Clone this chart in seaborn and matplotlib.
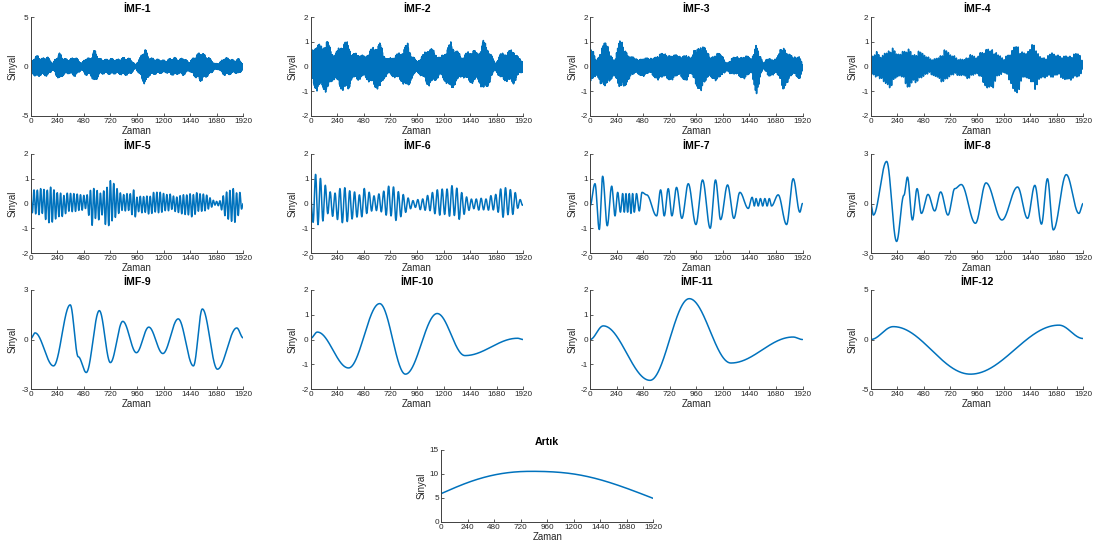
import numpy as np
import matplotlib
matplotlib.use("Agg")
import matplotlib.pyplot as plt
import seaborn as sns

# ---------------------------------------------------------------------------
# Data: time axis and the decomposition components
# ---------------------------------------------------------------------------
t = np.arange(0, 1921)
x_ticks = [0, 240, 480, 720, 960, 1200, 1440, 1680, 1920]

titles = ["İMF-1", "İMF-2", "İMF-3", "İMF-4", "İMF-5", "İMF-6",
          "İMF-7", "İMF-8", "İMF-9", "İMF-10", "İMF-11", "İMF-12"]

# High-frequency components: envelope (time, amplitude) and mean period
imf1_env_t = [0, 30, 60, 100, 150, 200, 230, 260, 300, 350, 400, 460, 500, 540, 577,
              620, 680, 720, 780, 840, 900, 946, 990, 1031, 1070, 1110, 1160, 1220,
              1260, 1300, 1340, 1380, 1430, 1480, 1536, 1580, 1620, 1660, 1700, 1750,
              1800, 1840, 1880, 1920]
imf1_env_a = [0.3, 0.9, 1.1, 0.8, 1.0, 0.3, 0.9, 1.35, 0.8, 0.7, 1.0, 0.3, 0.9, 0.8, 1.7,
              0.8, 0.7, 0.8, 0.7, 0.9, 0.8, 0.15, 0.9, 1.85, 0.9, 0.8, 0.7, 0.6,
              0.8, 0.9, 0.7, 0.9, 0.4, 1.0, 1.5, 1.1, 0.8, 0.3, 0.3, 0.9,
              0.8, 0.6, 0.8, 0.2]
imf1_period = 4

imf2_env_t = [0, 54, 100, 145, 190, 220, 280, 340, 370, 430, 490, 520, 600, 627, 660,
              700, 760, 820, 875, 910, 960, 1020, 1065, 1110, 1170, 1230, 1265, 1300,
              1365, 1425, 1470, 1510, 1560, 1606, 1667, 1712, 1773, 1833, 1878, 1920]
imf2_env_a = [0.5, 1.0, 0.8, 1.1, 0.6, 0.5, 0.95, 1.0, 0.5, 0.55, 0.4, 0.6, 0.9, 0.95, 0.5,
              0.3, 0.45, 0.6, 0.95, 0.5, 0.2, 0.5, 0.8, 0.65, 0.35, 0.7, 1.0, 0.75,
              0.4, 0.6, 0.7, 0.5, 1.05, 0.75, 0.1, 0.5, 0.6, 0.7, 0.35, 0.2]
imf2_period = 6

imf3_env_t = [0, 30, 60, 105, 141, 180, 220, 271, 316, 361, 421, 482, 542, 617, 677,
              737, 813, 867, 912, 949, 1000, 1039, 1084, 1144, 1190, 1235, 1280, 1340,
              1400, 1460, 1505, 1535, 1565, 1610, 1685, 1745, 1790, 1836, 1896, 1920]
imf3_env_a = [0.75, 0.6, 0.3, 0.8, 1.0, 0.6, 0.3, 1.1, 0.8, 0.45, 0.3, 0.4, 0.3, 0.55, 0.5,
              0.55, 0.4, 0.6, 0.3, 0.75, 1.0, 0.75, 0.4, 0.6, 0.45, 0.15, 0.35, 0.4,
              0.5, 0.3, 1.15, 0.5, 0.1, 0.4, 0.3, 0.95, 0.6, 0.35, 0.5, 0.1]
imf3_period = 10

imf4_env_t = [0, 54, 99, 150, 189, 234, 279, 338, 383, 428, 473, 533, 593, 668, 713,
              773, 833, 893, 953, 998, 1042, 1102, 1147, 1207, 1267, 1321, 1357, 1402,
              1432, 1483, 1522, 1582, 1641, 1686, 1731, 1791, 1851, 1896, 1920]
imf4_env_a = [0.35, 0.6, 0.5, 0.8, 0.9, 0.5, 0.55, 0.9, 0.6, 0.7, 0.5, 0.35, 0.4, 0.75, 0.5,
              0.4, 0.35, 0.55, 0.35, 0.6, 0.85, 0.9, 0.5, 0.3, 0.7, 1.2, 0.7, 0.5,
              0.7, 1.05, 0.5, 0.45, 0.55, 0.45, 0.5, 0.55, 0.55, 0.45, 0.1]
imf4_period = 18

imf5_env_t = [0, 33, 100, 160, 175, 205, 250, 296, 342, 387, 447, 493, 523, 553, 584,
              614, 644, 689, 705, 735, 765, 795, 825, 871, 916, 931, 961, 1007, 1052,
              1113, 1173, 1234, 1294, 1355, 1415, 1470, 1536, 1597, 1657, 1703, 1748,
              1808, 1839, 1869, 1899, 1920]
imf5_env_a = [0.35, 0.6, 0.6, 0.8, 0.85, 0.7, 0.6, 0.5, 0.45, 0.4, 0.4, 0.3, 0.5, 0.95, 0.6,
              0.7, 0.5, 1.0, 1.05, 1.0, 0.7, 0.5, 0.4, 0.4, 0.5, 0.8, 0.3, 0.4, 0.4,
              0.5, 0.45, 0.4, 0.35, 0.4, 0.5, 0.55, 0.4, 0.35, 0.1, 0.1, 0.45,
              0.8, 0.8, 0.6, 0.45, 0.0]
imf5_period = 30

imf6_env_t = [0, 18, 45, 79, 109, 136, 175, 220, 260, 311, 372, 432, 478, 523, 568,
              614, 674, 735, 780, 825, 871, 931, 992, 1052, 1113, 1173, 1234, 1294,
              1355, 1400, 1461, 1521, 1566, 1627, 1688, 1733, 1778, 1824, 1869, 1920]
imf6_env_a = [0.2, 0.9, 1.25, 1.2, 0.95, 0.7, 0.55, 0.6, 0.75, 0.8, 0.7, 0.5, 0.7, 0.5, 0.3,
              0.4, 0.6, 0.8, 0.75, 0.5, 0.3, 0.15, 0.25, 0.35, 0.5, 0.6, 0.65, 0.75,
              0.7, 0.35, 0.2, 0.3, 0.25, 0.35, 0.4, 0.7, 0.65, 0.6, 0.3, 0.05]
imf6_period = 44

# Relative height of successive half-cycles of the fast components
cycle_scale = [1.0, 0.8, 0.95, 0.7, 0.9, 0.75, 1.0, 0.65, 0.85, 0.9, 0.7, 0.95, 0.8]

# Slower components: turning points (time, value)
imf7_t = [0, 45, 84, 114, 156, 196, 226, 250, 275, 295, 310, 325, 340, 355, 370, 385,
          400, 420, 445, 470, 512, 602, 638, 671, 707, 740, 782, 830, 888, 957, 1017,
          1086, 1134, 1180, 1243, 1300, 1354, 1430, 1465, 1485, 1500, 1520, 1540, 1560,
          1580, 1600, 1620, 1640, 1700, 1776, 1836, 1896, 1920]
imf7_v = [-0.1, 0.8, -1.05, 1.1, -0.9, 0.7, -0.5, 0.45, -0.35, 0.4, -0.35, 0.4, -0.35, 0.4,
          -0.4, 0.4, -0.35, 0.4, -0.3, 0.45, 0.35, -0.5, 0.55, -0.5, 0.6, -0.5, 0.65, -0.6,
          0.8, -0.85, 0.95, -1.0, 0.95, -0.65, 0.75, -0.6, 0.45, -0.2, 0.25, -0.1, 0.2,
          -0.1, 0.2, -0.1, 0.2, -0.1, 0.2, -0.1, 0.35, -0.85, 1.0, -0.35, 0.0]

imf8_t = [0, 24, 144, 234, 300, 332, 377, 419, 458, 518, 578, 632, 698, 760, 818, 946,
          1042, 1186, 1327, 1417, 1483, 1543, 1597, 1650, 1767, 1881, 1920]
imf8_v = [0.0, -0.7, 2.55, -2.3, 0.5, 1.6, -1.0, 0.9, -0.6, 0.55, -0.45, 0.7, -0.7, 0.9,
          1.15, -1.2, 1.25, -1.0, 1.0, -0.9, 1.1, -1.25, 1.5, -1.6, 1.75, -0.6, 0.0]

imf9_t = [0, 39, 206, 357, 430, 502, 620, 720, 832, 955, 1067, 1194, 1333, 1470, 1551,
          1687, 1862, 1920]
imf9_v = [0.05, 0.4, -1.6, 2.1, -1.05, -2.0, 1.75, -1.4, 1.1, -0.8, 0.75, -0.85, 1.25,
          -1.6, 1.85, -1.8, 0.7, 0.1]

imf10_t = [0, 60, 342, 623, 856, 1143, 1394, 1869, 1920]
imf10_v = [0.05, 0.3, -1.15, 1.45, -1.4, 1.05, -0.65, 0.05, 0.0]

imf11_t = [0, 120, 542, 897, 1273, 1835, 1920]
imf11_v = [0.0, 0.55, -1.65, 1.65, -0.95, 0.1, 0.0]

imf12_t = [0, 204, 901, 1701, 1920]
imf12_v = [0.0, 1.3, -3.5, 1.45, 0.1]

res_t = [0, 240, 480, 720, 860, 1200, 1440, 1680, 1920]
res_v = [5.9, 8.2, 9.8, 10.5, 10.55, 10.0, 8.8, 7.0, 4.9]

y_limits = [(-5, 5), (-2, 2), (-2, 2), (-2, 2), (-2, 2), (-2, 2),
            (-2, 2), (-3, 3), (-3, 3), (-2, 2), (-2, 2), (-5, 5)]
y_ticks = [[-5, 0, 5], [-2, -1, 0, 1, 2], [-2, -1, 0, 1, 2], [-2, -1, 0, 1, 2],
           [-2, -1, 0, 1, 2], [-2, -1, 0, 1, 2], [-2, -1, 0, 1, 2], [-3, 0, 3],
           [-3, 0, 3], [-2, -1, 0, 1, 2], [-2, -1, 0, 1, 2], [-5, 0, 5]]


# ---------------------------------------------------------------------------
# Curve builders
# ---------------------------------------------------------------------------
def through_turning_points(tk, yk):
    """Half-cosine segments joining successive turning points."""
    tk = np.asarray(tk, float)
    yk = np.asarray(yk, float)
    idx = np.clip(np.searchsorted(tk, t, side="right") - 1, 0, len(tk) - 2)
    frac = (t - tk[idx]) / (tk[idx + 1] - tk[idx])
    w = (1 - np.cos(np.pi * frac)) / 2
    return yk[idx] + (yk[idx + 1] - yk[idx]) * w


def natural_spline(xk, yk):
    """Natural cubic spline through the given points."""
    xk = np.asarray(xk, float)
    yk = np.asarray(yk, float)
    n = len(xk)
    h = np.diff(xk)
    A = np.zeros((n, n))
    b = np.zeros(n)
    A[0, 0] = A[-1, -1] = 1
    for i in range(1, n - 1):
        A[i, i - 1] = h[i - 1]
        A[i, i] = 2 * (h[i - 1] + h[i])
        A[i, i + 1] = h[i]
        b[i] = 3 * ((yk[i + 1] - yk[i]) / h[i] - (yk[i] - yk[i - 1]) / h[i - 1])
    c = np.linalg.solve(A, b)
    idx = np.clip(np.searchsorted(xk, t, side="right") - 1, 0, n - 2)
    bb = (yk[1:] - yk[:-1]) / h - h * (2 * c[:-1] + c[1:]) / 3
    dd = (c[1:] - c[:-1]) / (3 * h)
    dx = t - xk[idx]
    return yk[idx] + bb[idx] * dx + c[idx] * dx**2 + dd[idx] * dx**3


def oscillation(env_t, env_a, period):
    """Alternating half-cycles following an amplitude envelope."""
    half = period // 2
    tk = np.arange(0, 1920 + half, half)
    amp = np.interp(tk, env_t, env_a)
    scale = np.array([cycle_scale[k % len(cycle_scale)] for k in range(len(tk))])
    sign = np.where(np.arange(len(tk)) % 2 == 0, 1.0, -1.0)
    return through_turning_points(tk, sign * amp * scale)


signals = [
    oscillation(imf1_env_t, imf1_env_a, imf1_period),
    oscillation(imf2_env_t, imf2_env_a, imf2_period),
    oscillation(imf3_env_t, imf3_env_a, imf3_period),
    oscillation(imf4_env_t, imf4_env_a, imf4_period),
    oscillation(imf5_env_t, imf5_env_a, imf5_period),
    oscillation(imf6_env_t, imf6_env_a, imf6_period),
    through_turning_points(imf7_t, imf7_v),
    through_turning_points(imf8_t, imf8_v),
    through_turning_points(imf9_t, imf9_v),
    through_turning_points(imf10_t, imf10_v),
    through_turning_points(imf11_t, imf11_v),
    through_turning_points(imf12_t, imf12_v),
]
residual = natural_spline(res_t, res_v)

# ---------------------------------------------------------------------------
# Figure
# ---------------------------------------------------------------------------
sns.set_style("ticks")
plt.rcParams["font.family"] = ["Liberation Sans", "DejaVu Sans"]
plt.rcParams["axes.unicode_minus"] = False

line_color = "#0072BD"
axis_color = "#404040"
text_color = "#262626"

fig = plt.figure(figsize=(10.97, 5.46), dpi=100)

col_left = [30.7, 310.7, 590.0, 870.7]
row_top = [17, 154, 290]
ax_w, ax_h = 212.5, 99.0
W, H = 1097.0, 546.0


def style_axes(ax, title, ylim, yticks):
    ax.set_xlim(0, 1920)
    ax.set_ylim(*ylim)
    ax.set_xticks(x_ticks)
    ax.set_yticks(yticks)
    for side in ("top", "right"):
        ax.spines[side].set_visible(False)
    for side in ("left", "bottom"):
        ax.spines[side].set_color(axis_color)
        ax.spines[side].set_linewidth(0.7)
    ax.tick_params(direction="in", length=2.0, width=0.6, color=axis_color,
                   labelsize=5.9, labelcolor=text_color, pad=1.5)
    ax.set_title(title, fontsize=7.6, fontweight="bold", color="black", pad=3.5)
    ax.set_xlabel("Zaman", fontsize=6.9, color=text_color, labelpad=0.5)
    ax.set_ylabel("Sinyal", fontsize=6.9, color=text_color, labelpad=2.5)


for i, (title, y) in enumerate(zip(titles, signals)):
    r, c = divmod(i, 4)
    left = col_left[c] / W
    bottom = (H - row_top[r] - ax_h) / H
    ax = fig.add_axes([left, bottom, ax_w / W, ax_h / H])
    sns.lineplot(x=t, y=y, ax=ax, color=line_color, linewidth=1.1)
    style_axes(ax, title, y_limits[i], y_ticks[i])

ax_r = fig.add_axes([441 / W, (H - 522) / H, ax_w / W, 72 / H])
sns.lineplot(x=t, y=residual, ax=ax_r, color=line_color, linewidth=1.1)
style_axes(ax_r, "Artık", (0, 15), [0, 5, 10, 15])

fig.savefig("out.png", dpi=100)
